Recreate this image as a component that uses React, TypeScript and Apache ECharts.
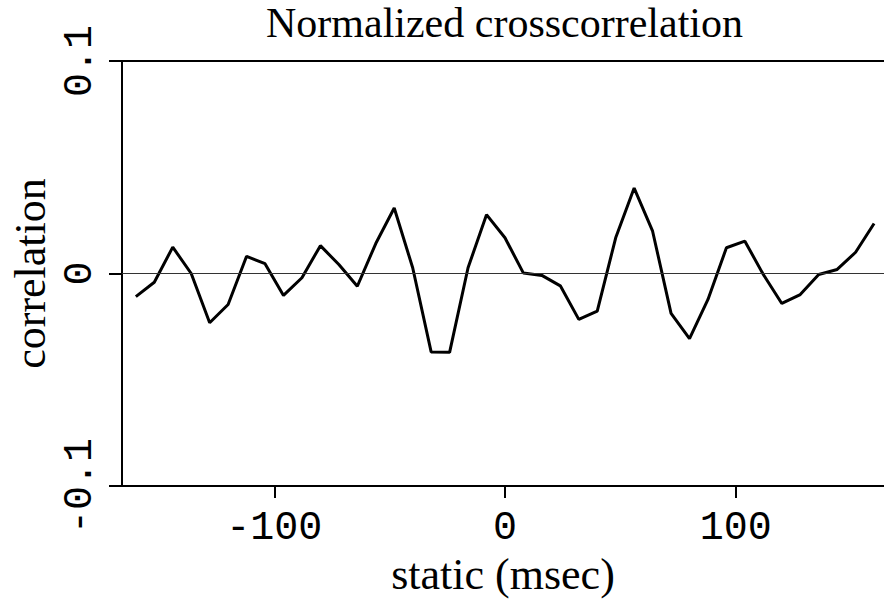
import React, { useEffect, useRef } from "react";
import * as echarts from "echarts";

const lags = [
  -160, -152, -144, -136, -128, -120, -112, -104, -96, -88, -80, -72, -64, -56,
  -48, -40, -32, -24, -16, -8, 0, 8, 16, 24, 32, 40, 48, 56, 64, 72, 80, 88, 96,
  104, 112, 120, 128, 136, 144, 152, 160,
];

const correlation = [
  -0.0109, -0.0041, 0.0124, 0.0, -0.0232, -0.0146, 0.0081, 0.0046, -0.0103,
  -0.002, 0.0131, 0.0042, -0.006, 0.0141, 0.0308, 0.0027, -0.0369, -0.0371,
  0.0027, 0.0277, 0.0168, 0.0002, -0.0009, -0.0058, -0.0216, -0.0177, 0.0168,
  0.0402, 0.0199, -0.0188, -0.0307, -0.0122, 0.0121, 0.0152, -0.0005, -0.0141,
  -0.0099, -0.0005, 0.0019, 0.01, 0.0235,
];

const xTicks = [-100, 0, 100];
const yTicks = [-0.1, 0, 0.1];
const yTickLabels = ["-0.1", "0", "0.1"];

const MONO = "Liberation Mono";
const SERIF = "Liberation Serif";

export default function App() {
  const ref = useRef<HTMLDivElement>(null);
  useEffect(() => {
    if (!ref.current) return;
    const chart = echarts.init(ref.current, undefined, { renderer: "svg" });
    const axisLineStyle = { color: "#000", width: 2 };
    chart.setOption({
      animation: false,
      backgroundColor: "#fff",
      title: {
        text: "Normalized crosscorrelation",
        left: 266,
        top: 0,
        padding: 0,
        textStyle: {
          fontFamily: SERIF,
          fontSize: 42,
          lineHeight: 46,
          fontWeight: "normal",
          color: "#000",
        },
      },
      grid: { left: 116, right: 0, top: 61, bottom: 119 },
      xAxis: [
        {
          type: "value",
          position: "bottom",
          min: -166,
          max: 164.3,
          axisLine: { show: true, onZero: false, lineStyle: axisLineStyle },
          axisTick: {
            show: true,
            customValues: xTicks,
            length: 12,
            lineStyle: axisLineStyle,
          },
          axisLabel: {
            show: true,
            customValues: xTicks,
            fontFamily: MONO,
            fontSize: 40,
            color: "#000",
            margin: 22,
          },
          splitLine: { show: false },
          name: "static (msec)",
          nameLocation: "middle",
          nameGap: 63,
          nameTextStyle: { fontFamily: SERIF, fontSize: 44, color: "#000" },
        },
        {
          type: "value",
          position: "top",
          min: -166,
          max: 164.3,
          axisLine: { show: true, onZero: false, lineStyle: axisLineStyle },
          axisTick: { show: false },
          axisLabel: { show: false },
          splitLine: { show: false },
        },
      ],
      yAxis: {
        type: "value",
        min: -0.1,
        max: 0.1,
        interval: 0.1,
        axisLine: { show: true, onZero: false, lineStyle: axisLineStyle },
        axisTick: { show: true, length: 13, lineStyle: axisLineStyle },
        axisLabel: {
          show: true,
          rotate: 90,
          margin: 22,
          fontFamily: MONO,
          fontSize: 40,
          color: "#000",
          formatter: (v: number) => {
            const i = yTicks.findIndex((t) => Math.abs(t - v) < 1e-9);
            return i >= 0 ? yTickLabels[i] : "";
          },
        },
        splitLine: { show: false },
        name: "correlation",
        nameLocation: "middle",
        nameGap: 70,
        nameRotate: 90,
        nameTextStyle: { fontFamily: SERIF, fontSize: 44, color: "#000" },
      },
      series: [
        {
          type: "line",
          xAxisIndex: 0,
          data: lags.map((x, i) => [x, correlation[i]]),
          showSymbol: false,
          symbol: "none",
          lineStyle: { color: "#000", width: 3 },
          markLine: {
            silent: true,
            symbol: "none",
            label: { show: false },
            lineStyle: { color: "#333", width: 1, type: "solid" },
            data: [{ yAxis: 0 }],
          },
        },
      ],
    });
    return () => chart.dispose();
  }, []);
  return (
    <div
      ref={ref}
      style={{ position: "fixed", left: 0, top: 0, width: 884, height: 605 }}
    />
  );
}
